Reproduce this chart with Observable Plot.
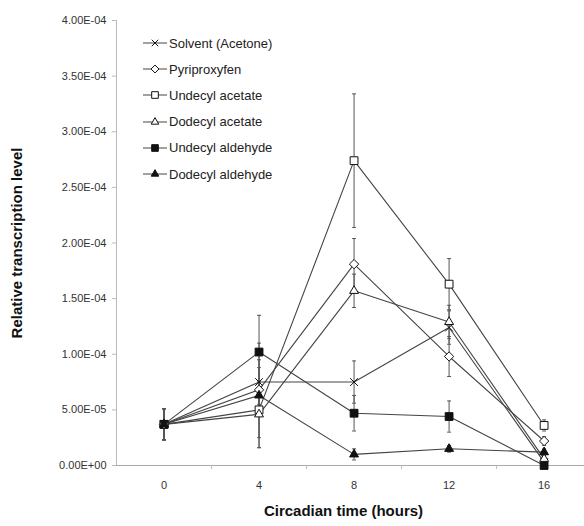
<!DOCTYPE html>
<html>
<head>
<meta charset="utf-8">
<script src="https://cdn.jsdelivr.net/npm/d3@7"></script>
<script src="https://cdn.jsdelivr.net/npm/@observablehq/plot@0.6"></script>
<style>
  html, body { margin: 0; padding: 0; background: #fff; }
  #wrap { position: relative; width: 584px; height: 526px; font-family: "Liberation Sans", Arial, sans-serif; }
  #legend { position: absolute; left: 142px; top: 30px; font-size: 13px; color: #222; }
  .row { height: 26.2px; display: flex; align-items: center; }
  .row svg { margin-right: 1px; }
</style>
</head>
<body>
<div id="wrap"><div id="legend"></div></div>
<script>
const hours = [0, 4, 8, 12, 16];
const seriesNames = ["Solvent (Acetone)", "Pyriproxyfen", "Undecyl acetate", "Dodecyl acetate", "Undecyl aldehyde", "Dodecyl aldehyde"];
const solvent        = [3.7e-5, 7.5e-5, 7.5e-5, 1.24e-4, 3e-6];
const pyriproxyfen   = [3.7e-5, 6.8e-5, 1.81e-4, 9.8e-5, 2.2e-5];
const undecylAcetate = [3.7e-5, 5.0e-5, 2.74e-4, 1.63e-4, 3.6e-5];
const dodecylAcetate = [3.7e-5, 4.6e-5, 1.57e-4, 1.29e-4, 6e-6];
const undecylAldehyde= [3.7e-5, 1.02e-4, 4.7e-5, 4.4e-5, 0];
const dodecylAldehyde= [3.7e-5, 6.3e-5, 1.0e-5, 1.5e-5, 1.2e-5];
const solventErr        = [1.4e-5, 2.0e-5, 1.9e-5, 1.5e-5, 3e-6];
const pyriproxyfenErr   = [1.4e-5, 2.0e-5, 2.3e-5, 1.8e-5, 4e-6];
const undecylAcetateErr = [1.4e-5, 2.5e-5, 6.0e-5, 2.3e-5, 5e-6];
const dodecylAcetateErr = [1.4e-5, 3.0e-5, 1.5e-5, 1.5e-5, 3e-6];
const undecylAldehydeErr= [1.4e-5, 3.3e-5, 1.6e-5, 1.4e-5, 2e-6];
const dodecylAldehydeErr= [1.4e-5, 4.7e-5, 5e-6, 3e-6, 3e-6];
const yTicks = [0, 5e-5, 1e-4, 1.5e-4, 2e-4, 2.5e-4, 3e-4, 3.5e-4, 4e-4];

const values = [solvent, pyriproxyfen, undecylAcetate, dodecylAcetate, undecylAldehyde, dodecylAldehyde];
const errs = [solventErr, pyriproxyfenErr, undecylAcetateErr, dodecylAcetateErr, undecylAldehydeErr, dodecylAldehydeErr];
const symbols = ["times", "diamond2", "square", "triangle", "square", "triangle"];
const fills = ["none", "white", "white", "white", "#111", "#111"];
const radii = [3.6, 4.2, 4.4, 3.3, 4.4, 3.3];

const data = [];
seriesNames.forEach((s, i) => hours.forEach((h, j) => data.push({series: s, hour: h, value: values[i][j], err: errs[i][j], fillc: fills[i], rad: radii[i]})));

function sci(d) {
  if (d === 0) return "0.00E+00";
  const [m, e] = d3.format(".2e")(d).split("e");
  const n = +e;
  return m + "E" + (n < 0 ? "-" : "+") + String(Math.abs(n)).padStart(2, "0");
}

const capSymbol = { draw(ctx, size) { const w = Math.sqrt(size) / 2; ctx.moveTo(-w, 0); ctx.lineTo(w, 0); } };

const chart = Plot.plot({
  width: 584, height: 526,
  marginLeft: 116, marginRight: 0, marginTop: 20, marginBottom: 61,
  style: { fontFamily: "Liberation Sans, Arial, sans-serif", fontSize: "11px", color: "#333", background: "white" },
  x: { domain: [-2, 17.7] },
  y: { domain: [0, 4e-4] },
  r: { type: "identity" },
  symbol: { domain: seriesNames, range: symbols },
  marks: [
    Plot.ruleY([0], { stroke: "#aaa" }),
    Plot.ruleX([-2], { stroke: "#bbb" }),
    Plot.axisY({ ticks: yTicks, tickFormat: sci, tickSize: 4, tickPadding: 6, stroke: "#bbb", fill: "#333", label: null }),
    Plot.axisX({ ticks: hours, tickSize: 0, tickPadding: 16, tickFormat: d => String(d), fill: "#333", label: null }),
    Plot.axisX({ ticks: [2, 6, 10, 14], tickSize: 4, tickFormat: () => "", stroke: "#bbb", label: null }),
    Plot.text(["Relative transcription level"], { frameAnchor: "left", textAnchor: "middle", dx: -99, rotate: -90, fontWeight: "bold", fontSize: 15, fill: "#111" }),
    Plot.text(["Circadian time (hours)"], { frameAnchor: "bottom", textAnchor: "middle", dx: -7, dy: 50, fontWeight: "bold", fontSize: 15, fill: "#111" }),
    Plot.line(data, { x: "hour", y: "value", z: "series", stroke: "#444", strokeWidth: 1.1 }),
    Plot.ruleX(data, { x: "hour", y1: d => d.value - d.err, y2: d => d.value + d.err, stroke: "#555", strokeWidth: 1 }),
    Plot.dot(data, { x: "hour", y: d => d.value + d.err, symbol: () => capSymbol, r: 2.2, stroke: "#555", strokeWidth: 1 }),
    Plot.dot(data, { x: "hour", y: d => Math.max(0, d.value - d.err), symbol: () => capSymbol, r: 2.2, stroke: "#555", strokeWidth: 1 }),
    Plot.dot(data, { x: "hour", y: "value", symbol: "series", r: "rad", fill: "fillc", stroke: "#111", strokeWidth: 1 })
  ]
});
document.getElementById("wrap").prepend(chart);

const legend = d3.select("#legend");
const typeMap = { times: d3.symbolTimes, diamond2: d3.symbolDiamond2, square: d3.symbolSquare, triangle: d3.symbolTriangle };
seriesNames.forEach((s, i) => {
  const row = legend.append("div").attr("class", "row");
  const svg = row.append("svg").attr("width", 26).attr("height", 14);
  svg.append("line").attr("x1", 1).attr("x2", 25).attr("y1", 7).attr("y2", 7).attr("stroke", "#444");
  const rr = radii[i] * 0.85;
  svg.append("path").attr("transform", "translate(13,7)")
    .attr("d", d3.symbol(typeMap[symbols[i]], Math.PI * rr * rr)())
    .attr("fill", fills[i]).attr("stroke", "#111");
  row.append("span").text(s);
});
</script>
</body>
</html>
